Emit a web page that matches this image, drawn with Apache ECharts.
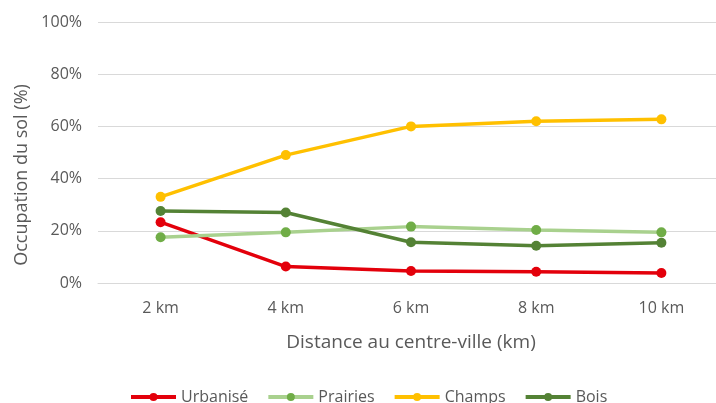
<!DOCTYPE html>
<html><head><meta charset="utf-8">
<script src="https://cdn.jsdelivr.net/npm/echarts@6/dist/echarts.min.js"></script>
<style>html,body{margin:0;padding:0;background:#fff;overflow:hidden}#c{width:724px;height:403px}</style>
</head><body><div id="c"></div>
<script>
const categories = ['2 km','4 km','6 km','8 km','10 km'];
const urbanise = [23.3, 6.3, 4.6, 4.3, 3.8];
const prairies = [17.5, 19.4, 21.6, 20.3, 19.4];
const champs   = [33, 49, 60, 62, 62.7];
const bois     = [27.6, 27, 15.6, 14.3, 15.4];
const yTicks = [0, 20, 40, 60, 80, 100];

const font = 'Open Sans';
const chart = echarts.init(document.getElementById('c'), null, {renderer:'canvas'});
function s(name, data, lineColor, markColor){
  return {name, type:'line', data, symbol:'circle', symbolSize:10,
    lineStyle:{color:lineColor, width:3.5},
    itemStyle:{color:markColor}, emphasis:{disabled:true}, z: 2};
}
chart.setOption({
  animation:false,
  textStyle:{fontFamily:font},
  grid:{left:98, right:0, top:22, height:261, containLabel:false},
  xAxis:{type:'category', data:categories, boundaryGap:true,
    axisLine:{show:true, lineStyle:{color:'#d9d9d9', width:1}},
    axisTick:{show:false},
    axisLabel:{color:'#595959', fontSize:16, margin:17, fontFamily:font},
    name:'Distance au centre-ville (km)', nameLocation:'middle', nameGap:50,
    nameTextStyle:{color:'#595959', fontSize:19, fontFamily:font}
  },
  yAxis:{type:'value', min:yTicks[0], max:yTicks[yTicks.length-1], interval:20,
    axisLine:{show:false}, axisTick:{show:false},
    splitLine:{lineStyle:{color:'#d9d9d9', width:1}},
    axisLabel:{color:'#595959', fontSize:16, margin:16, fontFamily:font, formatter:v=>v+'%'}
  },
  graphic:[{type:'text', x:22, y:175, rotation:Math.PI/2,
    style:{text:'Occupation du sol (%)', fill:'#595959', font:'18px "Open Sans"', align:'center', verticalAlign:'middle'}}],
  legend:{bottom:-7, left:124, itemWidth:45, itemHeight:10, itemGap:18,
    lineStyle:{width:4},
    textStyle:{color:'#595959', fontSize:16, fontFamily:font},
    data:['Urbanisé','Prairies','Champs','Bois']},
  series:[
    s('Urbanisé', urbanise, '#E3000B', '#E3000B'),
    s('Prairies', prairies, '#A9D18E', '#70AD47'),
    s('Champs', champs, '#FFC000', '#FFC000'),
    s('Bois', bois, '#548235', '#548235')
  ]
});
</script></body></html>
